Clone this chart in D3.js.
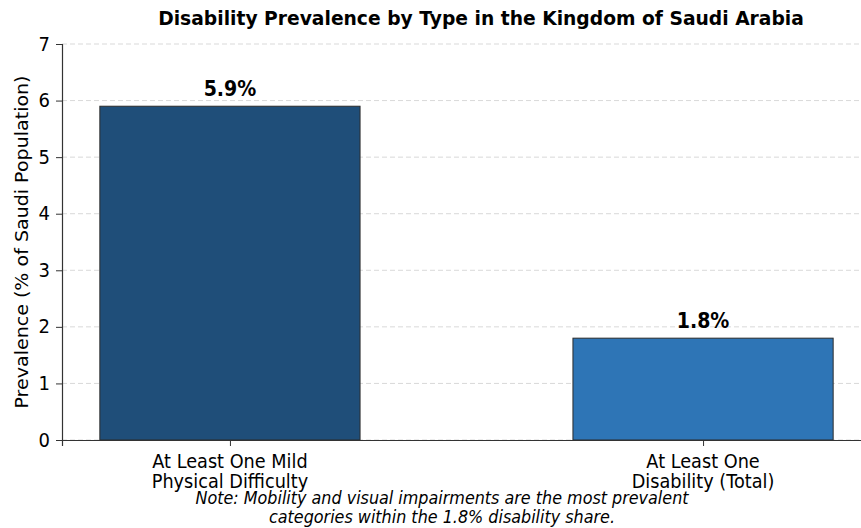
<!DOCTYPE html>
<html>
<head>
<meta charset="utf-8">
<script src="https://d3js.org/d3.v7.min.js"></script>
<style>
  body { margin: 0; background: #fff; }
  text { font-family: "DejaVu Sans", sans-serif; fill: #000; }
</style>
</head>
<body>
<div id="chart"></div>
<script>
// data
var categories = ["At Least One Mild\nPhysical Difficulty", "At Least One\nDisability (Total)"];
var values = [5.9, 1.8];
var barLabels = ["5.9%", "1.8%"];
var barColors = ["#1f4e79", "#2e75b6"];
var yTicks = [0, 1, 2, 3, 4, 5, 6, 7];
var noteLines = ["Note: Mobility and visual impairments are the most prevalent",
                 "categories within the 1.8% disability share."];

var svgWidth = 861, svgHeight = 528;
var margin = {top: 44, right: -10, bottom: 88, left: 62};
var width = svgWidth - margin.left - margin.right;
var height = svgHeight - margin.top - margin.bottom;

// the source picture is slightly taller than wide in its glyphs
var stretch = 1.07;

var svg = d3.select("#chart").append("svg")
    .attr("width", svgWidth)
    .attr("height", svgHeight);

var g = svg.append("g")
    .attr("transform", "translate(" + margin.left + "," + margin.top + ")");

// helper: text placed at (x,y) and stretched vertically
function addText(parent, x, y, txt, size, anchor) {
    return parent.append("text")
        .attr("transform", "translate(" + x + "," + y + ") scale(1," + stretch + ")")
        .attr("text-anchor", anchor || "middle")
        .style("font-size", size + "px")
        .text(txt);
}

var xScale = d3.scaleLinear()
    .domain([-0.355, 1.355])
    .range([0, width]);

var yScale = d3.scaleLinear()
    .domain([0, 7])
    .range([height, 0]);

var barW = 0.55;

// grid
g.selectAll(".grid")
    .data(yTicks)
    .enter()
    .append("line")
    .attr("x1", 0)
    .attr("x2", width)
    .attr("y1", d => yScale(d))
    .attr("y2", d => yScale(d))
    .attr("stroke", "#d9d9d9")
    .attr("stroke-width", 1)
    .attr("stroke-dasharray", "5,3");

// bars
g.selectAll(".bar")
    .data(values)
    .enter()
    .append("rect")
    .attr("x", (d, i) => xScale(i - barW / 2))
    .attr("width", (d, i) => xScale(i + barW / 2) - xScale(i - barW / 2))
    .attr("y", d => yScale(d))
    .attr("height", d => yScale(0) - yScale(d))
    .attr("fill", (d, i) => barColors[i])
    .attr("stroke", "#2b2b2b")
    .attr("stroke-width", 1);

// value labels
values.forEach(function(d, i) {
    addText(g, xScale(i), yScale(d) - 10, barLabels[i], 19)
        .style("font-weight", "bold");
});

// y axis
var yAxis = g.append("g")
    .call(d3.axisLeft(yScale).tickValues(yTicks).tickFormat("").tickSize(6));
yAxis.select(".domain").attr("stroke", "#333").attr("stroke-width", 1.2);
yAxis.selectAll(".tick line").attr("stroke", "#333");
yTicks.forEach(function(t) {
    addText(g, -12, yScale(t) + 6.5, d3.format("d")(t), 18, "end");
});

// x axis
var xAxis = g.append("g")
    .attr("transform", "translate(0," + height + ")")
    .call(d3.axisBottom(xScale).tickValues([0, 1]).tickSize(6).tickFormat(""));
xAxis.select(".domain").attr("stroke", "#333").attr("stroke-width", 1.2);
xAxis.selectAll(".tick line").attr("stroke", "#333");

// x tick labels (two lines)
categories.forEach(function(c, i) {
    c.split("\n").forEach(function(line, j) {
        addText(g, xScale(i), height + 28 + j * 20, line, 17.7);
    });
});

// y label
svg.append("text")
    .attr("transform", "translate(28," + (margin.top + height / 2) + ") rotate(-90) scale(" + stretch + ",1)")
    .attr("text-anchor", "middle")
    .style("font-size", "17.8px")
    .text("Prevalence (% of Saudi Population)");

// title
addText(svg, 481, 25, "Disability Prevalence by Type in the Kingdom of Saudi Arabia", 18.7)
    .style("font-weight", "bold");

// note
noteLines.forEach(function(line, j) {
    addText(svg, 442, 504 + j * 19, line, 16)
        .style("font-style", "italic");
});
</script>
</body>
</html>
